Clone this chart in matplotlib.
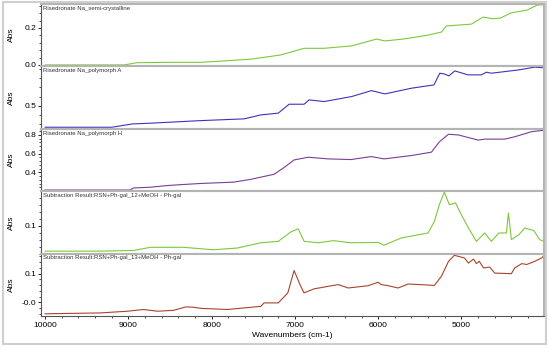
import matplotlib
matplotlib.use("Agg")
import matplotlib.pyplot as plt
from matplotlib import ticker
from matplotlib.patches import Rectangle

plt.rcParams['font.family'] = ['Liberation Sans', 'DejaVu Sans']

# spectra (wavenumber cm-1, absorbance)
wn_semi = [10000, 9050, 8900, 8500, 8130, 7530, 7170, 6890, 6650, 6320, 6020, 5920,
           5700, 5420, 5240, 5180, 4880, 4740, 4620, 4530, 4410, 4210, 4090, 4000]
abs_semi = [0.0, 0.0, 0.012, 0.014, 0.014, 0.031, 0.054, 0.090, 0.090, 0.103, 0.140, 0.130,
            0.140, 0.160, 0.178, 0.211, 0.221, 0.259, 0.250, 0.254, 0.281, 0.297, 0.324, 0.326]

wn_polyA = [10000, 9200, 8950, 8735, 8130, 7610, 7410, 7200, 7070, 6890, 6830, 6650, 6320,
            6080, 5920, 5600, 5330, 5260, 5210, 5150, 5080, 4920, 4760, 4700, 4640, 4310,
            4120, 4000]
abs_polyA = [0.268, 0.268, 0.304, 0.312, 0.340, 0.359, 0.402, 0.421, 0.518, 0.518, 0.565,
             0.547, 0.601, 0.666, 0.630, 0.692, 0.728, 0.855, 0.848, 0.826, 0.880, 0.837,
             0.837, 0.866, 0.855, 0.891, 0.921, 0.913]

wn_polyH = [10000, 8980, 8940, 8735, 8530, 8340, 8130, 7735, 7530, 7250, 7130, 7010, 6840,
            6600, 6325, 6085, 5930, 5600, 5360, 5265, 5155, 5035, 4795, 4720, 4480, 4360,
            4155, 4000]
abs_polyH = [0.213, 0.213, 0.235, 0.243, 0.261, 0.272, 0.283, 0.297, 0.327, 0.381, 0.453,
             0.534, 0.563, 0.545, 0.538, 0.570, 0.545, 0.581, 0.617, 0.727, 0.808, 0.800,
             0.745, 0.756, 0.756, 0.781, 0.836, 0.851]

wn_sub12 = [10000, 9340, 8940, 8735, 8340, 7980, 7690, 7410, 7200, 7050, 6960, 6890, 6720,
            6540, 6325, 6000, 5930, 5720, 5400, 5325, 5265, 5205, 5145, 5070, 5000, 4915,
            4820, 4720, 4640, 4550, 4460, 4435, 4400, 4310, 4240, 4130, 4060, 4010, 4000]
abs_sub12 = [0.027, 0.027, 0.029, 0.038, 0.038, 0.031, 0.036, 0.051, 0.055, 0.082, 0.091,
             0.055, 0.051, 0.057, 0.051, 0.052, 0.044, 0.065, 0.079, 0.112, 0.160, 0.196,
             0.160, 0.165, 0.131, 0.093, 0.055, 0.079, 0.055, 0.079, 0.079, 0.136, 0.060,
             0.074, 0.093, 0.086, 0.060, 0.055, 0.065]

wn_sub13 = [10000, 9340, 9010, 8820, 8650, 8460, 8310, 8220, 8130, 7810, 7410, 7370, 7200,
            7085, 7010, 6930, 6890, 6770, 6480, 6360, 6120, 6000, 5965, 5880, 5760, 5640,
            5325, 5240, 5155, 5085, 4965, 4915, 4855, 4820, 4785, 4735, 4660, 4600, 4400,
            4360, 4275, 4215, 4120, 4035, 4000]
abs_sub13 = [-0.040, -0.037, -0.031, -0.025, -0.031, -0.028, -0.016, -0.017, -0.021, -0.025,
             -0.014, -0.002, -0.002, 0.033, 0.111, 0.056, 0.033, 0.047, 0.062, 0.050, 0.058,
             0.070, 0.062, 0.058, 0.050, 0.064, 0.059, 0.091, 0.143, 0.164, 0.155, 0.137,
             0.151, 0.135, 0.143, 0.120, 0.123, 0.102, 0.100, 0.120, 0.135, 0.132, 0.143,
             0.155, 0.166]

titles = ["Risedronate Na_semi-crystalline",
          "Risedronate Na_polymorph A",
          "Risedronate Na_polymorph H",
          "Subtraction Result:RSN+Ph-gal_12+MeOH - Ph-gal",
          "Subtraction Result:RSN+Ph-gal_13+MeOH - Ph-gal"]
colors = ['#7cc83c', '#3b35b8', '#7a3e96', '#7cc83c', '#a8432c']
ylims = [(-0.008, 0.330), (0.251, 0.929), (0.2005, 0.866), (0.020, 0.1986), (-0.0477, 0.170)]
major_steps = [0.2, 0.5, 0.2, 0.1, 0.1]
minor_steps = [0.04, 0.1, 0.04, 0.02, 0.02]

series = [(wn_semi, abs_semi), (wn_polyA, abs_polyA), (wn_polyH, abs_polyH),
          (wn_sub12, abs_sub12), (wn_sub13, abs_sub13)]

fig = plt.figure(figsize=(5.5, 3.48), dpi=100)

left, width = 41 / 550, 503 / 550
h = 62.4 / 348
bottom0 = 1 - 316 / 348

def fmt(v, pos):
    if abs(v) < 1e-9:
        return '-0.0'
    return f'{v:.1f}'

axes = []
for i in range(5):
    b = bottom0 + (4 - i) * h
    ax = fig.add_axes([left, b, width, h])
    x, y = series[i]
    ax.plot(x, y, color=colors[i], lw=0.8)
    ax.set_xlim(10050, 4008)
    ax.set_ylim(*ylims[i])
    ax.yaxis.set_major_locator(ticker.MultipleLocator(major_steps[i]))
    ax.yaxis.set_minor_locator(ticker.MultipleLocator(minor_steps[i]))
    if i == 4:
        ax.yaxis.set_major_formatter(ticker.FuncFormatter(fmt))
    else:
        ax.yaxis.set_major_formatter(ticker.FormatStrFormatter('%.1f'))
    ax.tick_params(axis='y', which='major', length=2.5, width=0.6, labelsize=6, pad=1)
    ax.tick_params(axis='y', which='minor', length=1.5, width=0.5)
    for s in ['top', 'right', 'bottom']:
        ax.spines[s].set_color('#b4b4b4')
        ax.spines[s].set_linewidth(1.5)
    ax.spines['left'].set_color('#555555')
    ax.spines['left'].set_linewidth(0.8)
    ax.set_ylabel('Abs', fontsize=6)
    ax.yaxis.set_label_coords(-0.052, 0.5)
    ax.text(0.004, 0.93, titles[i], transform=ax.transAxes, fontsize=4.3,
            color='#333333', va='center', ha='left')
    if i < 4:
        ax.tick_params(axis='x', which='both', bottom=False, labelbottom=False)
    axes.append(ax)

axb = axes[-1]
axb.spines['bottom'].set_color('#555555')
axb.spines['bottom'].set_linewidth(0.8)
axb.xaxis.set_major_locator(ticker.MultipleLocator(1000))
axb.xaxis.set_minor_locator(ticker.MultipleLocator(200))
axb.tick_params(axis='x', which='major', length=2.5, width=0.6, labelsize=6, pad=2)
axb.tick_params(axis='x', which='minor', length=1.5, width=0.5)
axb.set_xlabel('Wavenumbers (cm-1)', fontsize=6, labelpad=2)

# light grey frame around the whole figure
fig.patches.append(Rectangle((3 / 550, 4 / 348), 543 / 550, 342 / 348, transform=fig.transFigure,
                             fill=False, edgecolor='#cfcfcf', lw=1.5))

fig.savefig('out.png', dpi=100)
